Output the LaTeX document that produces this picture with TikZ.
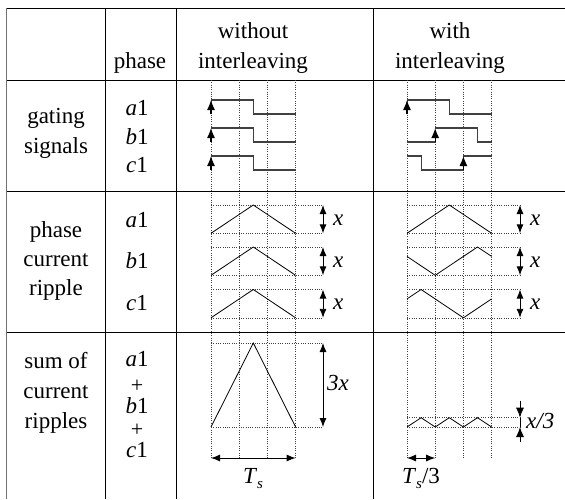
\documentclass[tikz,border=0pt]{standalone}
\usepackage{fontspec}
\setmainfont{Liberation Serif}
\usetikzlibrary{arrows.meta}
\begin{document}
\begin{tikzpicture}[x=1pt,y=-1pt,
  txt/.style={font=\fontsize{23}{28}\selectfont, inner sep=0pt, anchor=base},
  plus/.style={font=\fontsize{22}{22}\selectfont, inner sep=0pt, anchor=base},
  lbl/.style={font=\fontsize{23}{28}\selectfont\itshape, inner sep=0pt, anchor=base west},
  rule/.style={line width=0.8pt},
  border/.style={line width=1.8pt, black!55},
  dots/.style={line width=0.6pt, dash pattern=on 0.7pt off 1.6pt, black!75},
  wave/.style={line width=0.8pt},
  gate/.style={line width=1.2pt, black!75},
  tip/.style={-{Latex[length=10pt,width=8pt]}},
  dim/.style={{Latex[length=9pt,width=7pt]}-{Latex[length=9pt,width=7pt]}, line width=0.9pt},
]
\useasboundingbox (0,0) rectangle (565,499);
% table rules
\draw[rule] (6,8) -- (565,8);
\draw[rule] (6,80) -- (565,80);
\draw[rule] (6,191) -- (565,191);
\draw[rule] (6,332) -- (565,332);
\draw[rule] (105,8) -- (105,499);
\draw[rule] (176,8) -- (176,499);
\draw[rule] (373,8) -- (373,499);
\draw[border] (6.5,8) -- (6.5,499);
% header
\node[txt] (hphase) at (140,68) {phase};
\node[txt] (hwo1) at (253,38) {without};
\node[txt] (hwo2) at (253,68) {interleaving};
\node[txt] (hw1) at (450,38) {with};
\node[txt] (hw2) at (450,68) {interleaving};
% row labels
\node[txt] (g1) at (56,123) {gating};
\node[txt] (g2) at (56,153) {signals};
\node[txt] (p1) at (56,237) {phase};
\node[txt] (p2) at (56,266) {current};
\node[txt] (p3) at (56,295) {ripple};
\node[txt] (s1) at (56,368) {sum of};
\node[txt] (s2) at (56,398) {current};
\node[txt] (s3) at (56,428) {ripples};
% phase names
\node[txt] (ga) at (137,115) {\textit{a}1};
\node[txt] (gb) at (137,144) {\textit{b}1};
\node[txt] (gc) at (137,172) {\textit{c}1};
\node[txt] (pa) at (137,227) {\textit{a}1};
\node[txt] (pb) at (137,268) {\textit{b}1};
\node[txt] (pc) at (137,310) {\textit{c}1};
\node[txt] (sa) at (137,366) {\textit{a}1};
\node[plus] (sp1) at (137,392) {+};
\node[txt] (sb) at (137,413) {\textit{b}1};
\node[plus] (sp2) at (137,436) {+};
\node[txt] (sc) at (137,457) {\textit{c}1};
% dotted time grid
\foreach \x in {211,239.2,267.4,295.6,407,435.2,463.4,491.6}
  \draw[dots] (\x,80) -- (\x,458);
% ---------- gating signals, without interleaving
\foreach \L in {114,142,170}{
  \draw[gate] (211,\L-14) -- (253.3,\L-14) -- (253.3,\L) -- (295.6,\L);
  \coordinate (lo) at (211,\L); \coordinate (hi) at (211,\L-14);
  \draw[gate,black,tip] (lo) -- (hi);
}
% ---------- gating signals, with interleaving
\draw[gate] (407,100) -- (449.3,100) -- (449.3,114) -- (491.6,114);
\coordinate (ra0) at (407,114); \coordinate (ra1) at (407,100);
\draw[gate,black,tip] (ra0) -- (ra1);
\draw[gate] (407,142) -- (435.2,142);
\draw[gate] (435.2,128) -- (477.5,128) -- (477.5,142) -- (491.6,142);
\coordinate (rb0) at (435.2,142); \coordinate (rb1) at (435.2,128);
\draw[gate,black,tip] (rb0) -- (rb1);
\draw[gate] (407,156) -- (421.1,156) -- (421.1,170) -- (463.4,170);
\draw[gate] (463.4,156) -- (491.6,156);
\coordinate (rc0) at (463.4,170); \coordinate (rc1) at (463.4,156);
\draw[gate,black,tip] (rc0) -- (rc1);
% ---------- phase current ripple
\foreach \T/\n in {205/a,247/b,289.5/c}{
  \draw[dots] (211,\T) -- (323,\T);
  \draw[dots] (211,\T+28.3) -- (323,\T+28.3);
  \draw[dots] (407,\T) -- (520,\T);
  \draw[dots] (407,\T+28.3) -- (520,\T+28.3);
  \draw[wave] (211,\T+28.3) -- (253.3,\T) -- (295.6,\T+28.3);
  \coordinate (lt\n) at (323,\T); \coordinate (lb\n) at (323,\T+28.3);
  \coordinate (rt\n) at (520,\T); \coordinate (rb\n) at (520,\T+28.3);
  \draw[dim] (lt\n) -- (lb\n);
  \draw[dim] (rt\n) -- (rb\n);
  \node[lbl] (lx\n) at (333,\T+20) {x};
  \node[lbl] (rx\n) at (530,\T+20) {x};
}
\draw[wave] (407,233.3) -- (449.3,205) -- (491.6,233.3);
\draw[wave] (407,256.4) -- (435.2,275.3) -- (477.5,247) -- (491.6,256.4);
\draw[wave] (407,298.9) -- (421.1,289.5) -- (463.4,317.8) -- (491.6,298.9);
% ---------- sum of ripples
\draw[dots] (211,343) -- (323,343);
\draw[dots] (211,427) -- (323,427);
\draw[wave] (211,427) -- (253.3,343) -- (295.6,427);
\coordinate (st) at (323,343); \coordinate (sbt) at (323,427);
\draw[dim] (st) -- (sbt);
\node[lbl] (l3x) at (327,390) {3x};
\draw[dots] (407,417.7) -- (520,417.7);
\draw[dots] (407,427) -- (520,427);
\draw[wave] (407,427) -- (421.1,417.7) -- (435.2,427) -- (449.3,417.7) -- (463.4,427) -- (477.5,417.7) -- (491.6,427);
\coordinate (q0) at (520,400.7); \coordinate (q1) at (520,417.7);
\coordinate (q2) at (520,427); \coordinate (q3) at (520,441.7);
\draw[line width=0.9pt,tip] (q0) -- (q1);
\draw[line width=0.9pt,tip] (q3) -- (q2);
\draw[line width=0.9pt] (q1) -- (q2);
\node[lbl] (lx3) at (526,428) {x/3};
% period arrows
\coordinate (ts0) at (211,458); \coordinate (ts1) at (295.6,458);
\draw[dim] (ts0) -- (ts1);
\node[txt] (tsl) at (253,483) {\textit{T}\raisebox{-0.22em}{\fontsize{15}{15}\selectfont\textit{s}}};
\coordinate (tr0) at (407,458); \coordinate (tr1) at (435.2,458);
\draw[dim] (tr0) -- (tr1);
\node[txt] (trl) at (421,483) {\textit{T}\raisebox{-0.22em}{\fontsize{15}{15}\selectfont\textit{s}}/3};
\end{tikzpicture}
\end{document}
